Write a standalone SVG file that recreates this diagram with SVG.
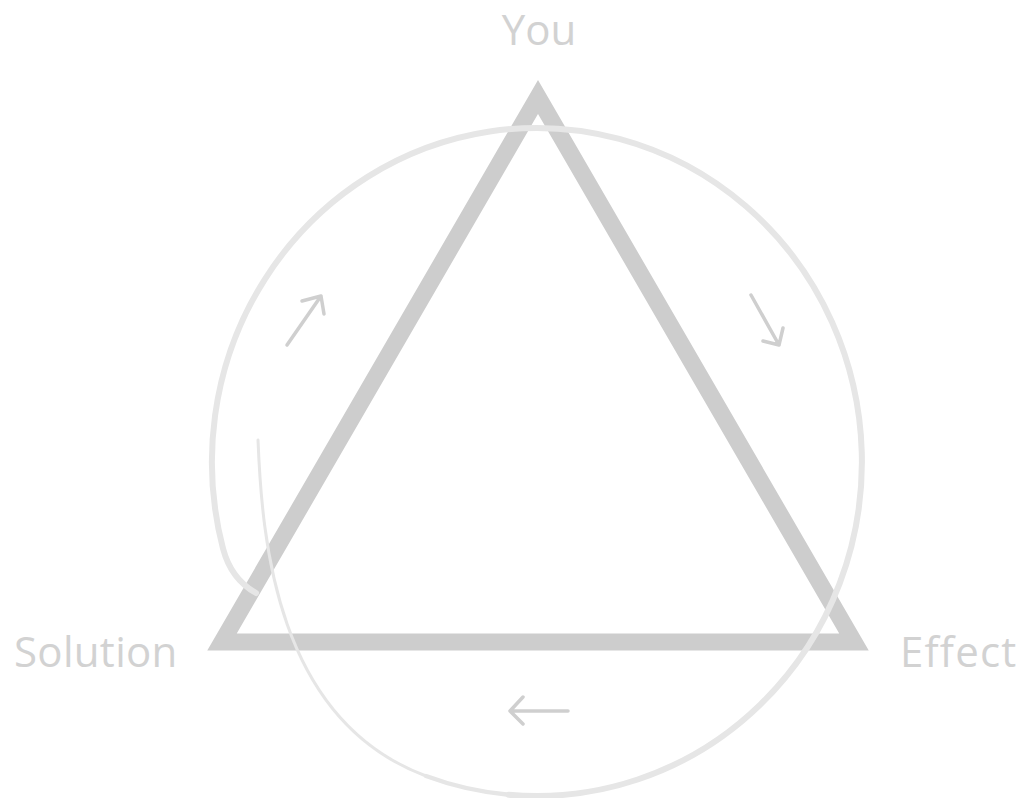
<svg xmlns="http://www.w3.org/2000/svg" width="1024" height="798" viewBox="0 0 1024 798">
  <style>
    .label { font-family: "Open Sans", "Liberation Sans", sans-serif; font-size: 42px; fill: #d2d2d2; }
    .tri { fill: none; stroke: #cdcdcd; stroke-width: 17; stroke-linejoin: miter; stroke-miterlimit: 10; }
    .loop { fill: none; stroke: #e6e6e6; stroke-linecap: round; stroke-linejoin: round; }
    .arrow { fill: none; stroke: #cfcfcf; stroke-width: 3.5; stroke-linecap: round; stroke-linejoin: round; }
  </style>
  <rect width="1024" height="798" fill="#ffffff"/>
  <g id="triangle">
    <polygon class="tri" points="538,97 222,642 854,642"/>
  </g>
  <g id="connectors">
    <path class="loop" stroke-width="3" d="M258 440 C262 540 276 720 426 776"/>
    <path class="loop" stroke-width="4.5" d="M426 776 A325 334 0 0 0 508.7 794.7"/>
    <path class="loop" stroke-width="6" d="M508.7 794.7 A325 334 0 1 0 223 548.5 Q231 579 256 593"/>
    <path class="arrow" d="M287 345 L321 296 M302 301 L321 296 L324 314"/>
    <path class="arrow" d="M751 295 L779 345 M763 341 L779 345 L783 328"/>
    <path class="arrow" d="M568 711 L510 711 M523 697 L510 711 L523 724"/>
  </g>
  <g id="node-you">
    <text class="label" x="539" y="45" text-anchor="middle">You</text>
  </g>
  <g id="node-solution">
    <text class="label" x="14" y="667" letter-spacing="0.3">Solution</text>
  </g>
  <g id="node-effect">
    <text class="label" x="900" y="667" letter-spacing="1.2">Effect</text>
  </g>
</svg>
